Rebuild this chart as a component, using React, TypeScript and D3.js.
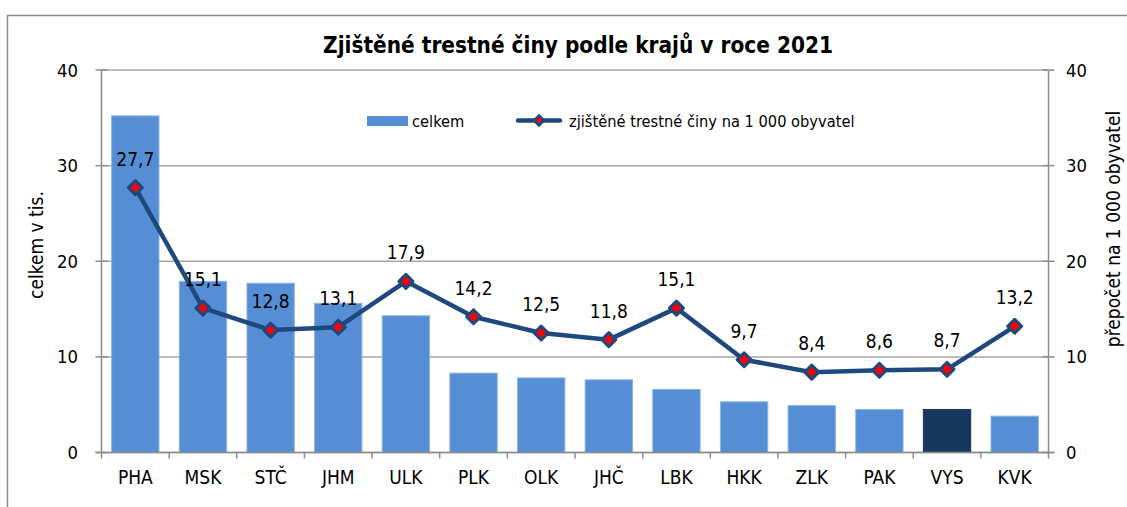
import React from "react";
import * as d3 from "d3";

const categories = ["PHA", "MSK", "STČ", "JHM", "ULK", "PLK", "OLK", "JHČ", "LBK", "HKK", "ZLK", "PAK", "VYS", "KVK"];
const totals = [35.2, 17.9, 17.7, 15.6, 14.3, 8.3, 7.8, 7.6, 6.6, 5.3, 4.9, 4.5, 4.5, 3.8];
const perThousand = [27.7, 15.1, 12.8, 13.1, 17.9, 14.2, 12.5, 11.8, 15.1, 9.7, 8.4, 8.6, 8.7, 13.2];
const leftTicks = [0, 10, 20, 30, 40];
const rightTicks = [0, 10, 20, 30, 40];
const highlighted = "VYS";

const title = "Zjištěné trestné činy podle krajů v roce 2021";
const leftTitle = "celkem v tis.";
const rightTitle = "přepočet na 1 000 obyvatel";
const legendBar = "celkem";
const legendLine = "zjištěné trestné činy na 1 000 obyvatel";

const FONT = "'DejaVu Sans Condensed', 'DejaVu Sans', Verdana, sans-serif";

export default function App() {
  const W = 1127, H = 507;
  const left = 101.5, right = 1048.5, top = 70, bottom = 452.5;
  const x = d3.scaleBand<string>().domain(categories).range([left, right]).paddingInner(0.3).paddingOuter(0.15);
  const yL = d3.scaleLinear().domain([0, 40]).range([bottom, top]);
  const yR = d3.scaleLinear().domain([0, 40]).range([bottom, top]);
  const step = (right - left) / categories.length;
  const line = d3.line<number>().x((_, i) => x(categories[i])! + x.bandwidth() / 2).y(d => yR(d));
  const lineColor = "#1F497D";
  const diamond = (cx: number, cy: number, r: number) => `M${cx},${cy - r}L${cx + r},${cy}L${cx},${cy + r}L${cx - r},${cy}Z`;

  return (
    <svg width={W} height={H} style={{ position: "absolute", left: 0, top: 0, background: "#fff", fontStretch: "condensed" }} fontFamily={FONT}>
      <rect x={7.5} y={15.5} width={1125} height={500} fill="#fff" stroke="#8c8c8c" strokeWidth={1.5} />
      <text x={578} y={53} textAnchor="middle" fontWeight="bold" fontSize={22.4}>{title}</text>
      {/* gridlines */}
      {leftTicks.map(t => (
        <line key={"g" + t} x1={left} x2={right} y1={yL(t)} y2={yL(t)} stroke="#a6a6a6" strokeWidth={1.5} />
      ))}
      {/* bars */}
      {categories.map((c, i) => (
        <rect key={c} x={x(c)!} y={yL(totals[i])} width={x.bandwidth()} height={bottom - yL(totals[i])}
          fill={c === highlighted ? "#17375E" : "#558ED5"} stroke={c === highlighted ? "#17375E" : "#8DB3E2"} strokeWidth={1} />
      ))}
      {/* axes */}
      <line x1={left} x2={left} y1={top} y2={bottom} stroke="#8c8c8c" strokeWidth={1.5} />
      <line x1={right} x2={right} y1={top} y2={bottom} stroke="#8c8c8c" strokeWidth={1.5} />
      <line x1={left - 6} x2={right + 6} y1={bottom} y2={bottom} stroke="#8c8c8c" strokeWidth={1.5} />
      {leftTicks.map(t => (
        <g key={"l" + t}>
          <line x1={left - 6} x2={left + 6} y1={yL(t)} y2={yL(t)} stroke="#8c8c8c" strokeWidth={1.5} />
          <text x={78} y={yL(t) + 6.5} textAnchor="end" fontSize={18.3}>{t}</text>
        </g>
      ))}
      {rightTicks.map(t => (
        <g key={"r" + t}>
          <line x1={right - 6} x2={right + 6} y1={yR(t)} y2={yR(t)} stroke="#8c8c8c" strokeWidth={1.5} />
          <text x={1066} y={yR(t) + 6.5} textAnchor="start" fontSize={18.3}>{t}</text>
        </g>
      ))}
      {d3.range(categories.length + 1).map(i => (
        <line key={"xt" + i} x1={left + i * step} x2={left + i * step} y1={bottom} y2={bottom + 6} stroke="#8c8c8c" strokeWidth={1.5} />
      ))}
      {categories.map(c => (
        <text key={"xl" + c} x={x(c)! + x.bandwidth() / 2} y={484} textAnchor="middle" fontSize={19}>{c}</text>
      ))}
      <text transform={`translate(43,245) rotate(-90)`} textAnchor="middle" fontSize={19}>{leftTitle}</text>
      <text transform={`translate(1120,229) rotate(-90)`} textAnchor="middle" fontSize={19}>{rightTitle}</text>
      {/* line */}
      <path d={line(perThousand)!} fill="none" stroke={lineColor} strokeWidth={4.5} strokeLinejoin="round" />
      {perThousand.map((v, i) => {
        const cx = x(categories[i])! + x.bandwidth() / 2;
        const cy = yR(v);
        return (
          <g key={"m" + i}>
            <path d={diamond(cx, cy, 7)} fill="#FF0000" stroke={lineColor} strokeWidth={3} strokeLinejoin="round" />
            <text x={cx} y={cy - 22} textAnchor="middle" fontSize={19}>{d3.format(".1f")(v).replace(".", ",")}</text>
          </g>
        );
      })}
      {/* legend */}
      <rect x={367} y={116} width={41} height={10} fill="#558ED5" />
      <text x={412} y={127} fontSize={16.3}>{legendBar}</text>
      <line x1={518} x2={560} y1={120.5} y2={120.5} stroke={lineColor} strokeWidth={4.5} strokeLinecap="round" />
      <path d={diamond(539, 120.5, 5)} fill="#FF0000" stroke={lineColor} strokeWidth={2.5} />
      <text x={569} y={127} fontSize={16.3}>{legendLine}</text>
    </svg>
  );
}
